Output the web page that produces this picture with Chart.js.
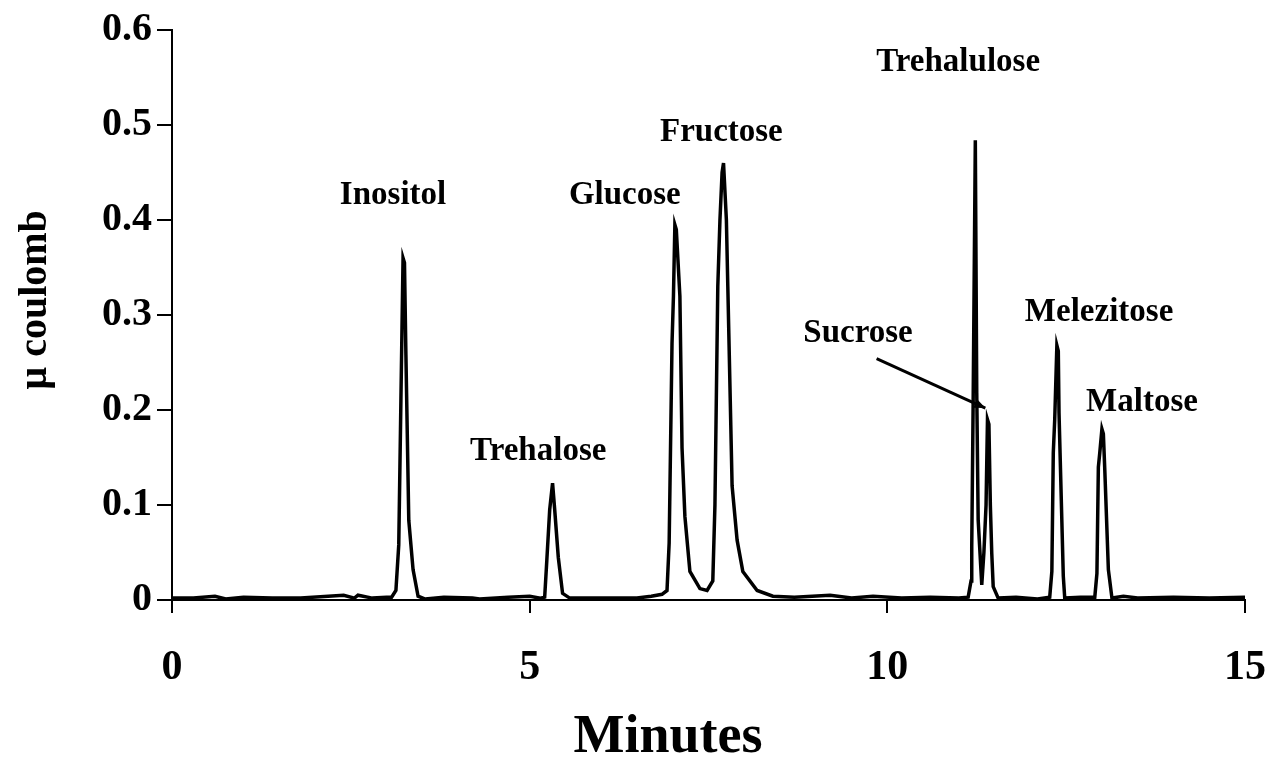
<!DOCTYPE html>
<html>
<head>
<meta charset="utf-8">
<script src="https://cdn.jsdelivr.net/npm/chart.js@4"></script>
<style>
    html, body { margin: 0; padding: 0; background: #fff; }
    #wrap { width: 1270px; height: 765px; }
</style>
</head>
<body>
<div id="wrap"><canvas id="chromChart" width="1270" height="765"></canvas></div>
<script>
// trace (minutes, µ coulomb)
const minutes = [
    0, 0.3, 0.6, 0.75, 1.0, 1.4, 1.8, 2.4, 2.55, 2.6, 2.8, 3.0,
    3.07, 3.13, 3.17, 3.20, 3.23, 3.25, 3.27, 3.31, 3.37, 3.44, 3.54,
    3.8, 4.2, 4.3, 4.7, 5.0, 5.15,
    5.21, 5.24, 5.28, 5.32, 5.35, 5.40, 5.46, 5.56,
    5.8, 6.2, 6.5, 6.7, 6.85,
    6.92, 6.95, 6.99, 7.01, 7.03, 7.05, 7.10, 7.13, 7.17, 7.24, 7.38,
    7.48, 7.56, 7.59, 7.63, 7.66, 7.69, 7.71, 7.75, 7.77, 7.83, 7.90, 7.98, 8.18, 8.40,
    8.7, 9.2, 9.5, 9.8, 10.2, 10.6, 11.0,
    11.13, 11.17, 11.18, 11.20, 11.23, 11.25, 11.27, 11.32,
    11.35, 11.38, 11.40, 11.42, 11.44, 11.46, 11.48, 11.55,
    11.8, 12.1,
    12.27, 12.30, 12.32, 12.34, 12.37, 12.39, 12.40, 12.46, 12.48,
    12.7,
    12.90, 12.93, 12.95, 12.97, 13.00, 13.02, 13.04, 13.09, 13.14,
    13.3, 13.5, 14.0, 14.5, 15.0
];
const signal = [
    0.002, 0.002, 0.004, 0.001, 0.003, 0.002, 0.002, 0.005, 0.002, 0.005, 0.002, 0.003,
    0.003, 0.010, 0.058, 0.210, 0.360, 0.355, 0.258, 0.084, 0.032, 0.004, 0.001,
    0.003, 0.002, 0.001, 0.003, 0.004, 0.002,
    0.003, 0.042, 0.095, 0.123, 0.095, 0.045, 0.007, 0.002,
    0.002, 0.002, 0.002, 0.004, 0.006,
    0.010, 0.060, 0.270, 0.320, 0.395, 0.390, 0.320, 0.160, 0.088, 0.030, 0.012,
    0.010, 0.020, 0.100, 0.330, 0.400, 0.450, 0.460, 0.400, 0.330, 0.120, 0.063, 0.030, 0.010, 0.004,
    0.003, 0.005, 0.002, 0.004, 0.002, 0.003, 0.002,
    0.003, 0.020, 0.056, 0.210, 0.484, 0.218, 0.084, 0.016,
    0.050, 0.100, 0.190, 0.185, 0.100, 0.049, 0.014, 0.002,
    0.003, 0.001,
    0.003, 0.030, 0.155, 0.190, 0.268, 0.262, 0.197, 0.025, 0.002,
    0.003,
    0.003, 0.028, 0.140, 0.155, 0.180, 0.175, 0.137, 0.032, 0.002,
    0.004, 0.002, 0.003, 0.002, 0.003
];

// peak names and where they sit (data coords, text centre)
const peakNames = ['Inositol', 'Trehalose', 'Glucose', 'Fructose', 'Trehalulose', 'Sucrose', 'Melezitose', 'Maltose'];
const labelX = [3.09, 5.12, 6.33, 7.68, 10.99, 9.59, 12.96, 13.56];
const labelY = [0.426, 0.156, 0.426, 0.492, 0.566, 0.281, 0.303, 0.208];

// sucrose pointer line
const arrowFrom = [9.85, 0.254];
const arrowTo = [11.37, 0.202];

const serif = "'Liberation Serif', 'Times New Roman', serif";

const peakLabels = {
    id: 'peakLabels',
    afterDatasetsDraw(chart) {
        const ctx = chart.ctx;
        const xs = chart.scales.x, ys = chart.scales.y;
        ctx.save();
        ctx.fillStyle = '#000';
        ctx.font = 'bold 33px ' + serif;
        ctx.textAlign = 'center';
        ctx.textBaseline = 'middle';
        peakNames.forEach((name, i) => {
            ctx.fillText(name, xs.getPixelForValue(labelX[i]), ys.getPixelForValue(labelY[i]));
        });

        // arrow to the sucrose peak
        const x1 = xs.getPixelForValue(arrowFrom[0]), y1 = ys.getPixelForValue(arrowFrom[1]);
        const x2 = xs.getPixelForValue(arrowTo[0]), y2 = ys.getPixelForValue(arrowTo[1]);
        ctx.strokeStyle = '#000';
        ctx.lineWidth = 3;
        ctx.beginPath();
        ctx.moveTo(x1, y1);
        ctx.lineTo(x2, y2);
        ctx.stroke();
        const ang = Math.atan2(y2 - y1, x2 - x1);
        ctx.beginPath();
        ctx.moveTo(x2, y2);
        ctx.lineTo(x2 - 12 * Math.cos(ang - 0.4), y2 - 12 * Math.sin(ang - 0.4));
        ctx.lineTo(x2 - 12 * Math.cos(ang + 0.4), y2 - 12 * Math.sin(ang + 0.4));
        ctx.closePath();
        ctx.fillStyle = '#000';
        ctx.fill();
        ctx.restore();
    }
};

window.drawChromChart = function() {
    try {
        const canvas = document.getElementById('chromChart');
        if (!canvas) return;
        const points = minutes.map((m, i) => ({ x: m, y: signal[i] }));

        if (window.chromChart && window.chromChart.destroy) window.chromChart.destroy();
        window.chromChart = new Chart(canvas, {
            type: 'line',
            data: {
                datasets: [{
                    data: points,
                    borderColor: '#000',
                    borderWidth: 3.5,
                    pointRadius: 0,
                    tension: 0,
                    fill: false
                }]
            },
            options: {
                responsive: false,
                animation: false,
                layout: { padding: { top: 30, right: 25, left: 0, bottom: 0 } },
                plugins: { legend: { display: false }, tooltip: { enabled: false } },
                scales: {
                    x: {
                        type: 'linear',
                        min: 0, max: 15,
                        afterFit: (s) => { s.height = 165; s.paddingLeft = 0; s.paddingRight = 0; },
                        ticks: { stepSize: 5, color: '#000', padding: 30, maxRotation: 0, font: { family: serif, size: 42, weight: 'bold' } },
                        grid: { display: true, drawOnChartArea: false, drawTicks: true, tickLength: 13, color: '#000', lineWidth: 2 },
                        border: { display: true, color: '#000', width: 2 },
                        title: { display: true, text: 'Minutes      ', color: '#000', padding: { top: 0, bottom: 0 }, font: { family: serif, size: 54, weight: 'bold', lineHeight: 1.0 } }
                    },
                    y: {
                        min: 0, max: 0.6,
                        afterFit: (s) => { s.width = 172; s.paddingTop = 0; s.paddingBottom = 0; },
                        ticks: { stepSize: 0.1, color: '#000', padding: 5, font: { family: serif, size: 40, weight: 'bold' } },
                        grid: { display: true, drawOnChartArea: false, drawTicks: true, tickLength: 15, color: '#000', lineWidth: 2 },
                        border: { display: true, color: '#000', width: 2 },
                        title: { display: true, text: '   µ coulomb', color: '#000', padding: { top: 12, bottom: 0 }, font: { family: serif, size: 40, weight: 'bold', lineHeight: 1.2 } }
                    }
                }
            },
            plugins: [peakLabels]
        });
    } catch (e) { console.error('Chart Error:', e); }
};

window.drawChromChart();
</script>
</body>
</html>
